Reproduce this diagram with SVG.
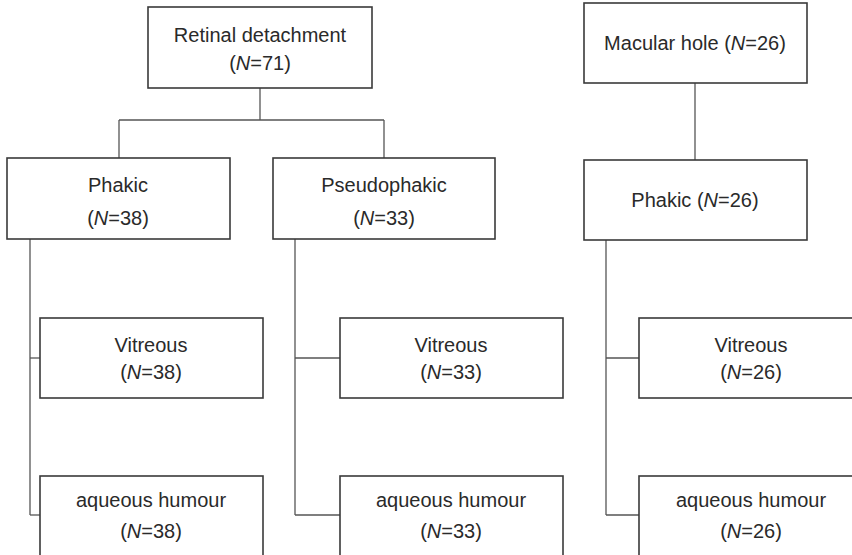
<svg xmlns="http://www.w3.org/2000/svg" width="852" height="555" viewBox="0 0 852 555">
<style>
  .box { fill: #ffffff; stroke: #3a3a3a; stroke-width: 1.6; }
  .conn line { stroke: #555555; stroke-width: 1.3; }
  text { font-family: "Liberation Sans", Arial, sans-serif; font-size: 20px; fill: #2a2a2a; text-anchor: middle; }
  .i { font-style: italic; }
</style>
<rect width="852" height="555" fill="#ffffff"/>
<g id="connectors" class="conn">
  <line x1="260" y1="88" x2="260" y2="120"/>
  <line x1="119" y1="120" x2="384" y2="120"/>
  <line x1="119" y1="120" x2="119" y2="158"/>
  <line x1="384" y1="120" x2="384" y2="158"/>
  <line x1="30" y1="239" x2="30" y2="515"/>
  <line x1="30" y1="358" x2="40" y2="358"/>
  <line x1="30" y1="515" x2="40" y2="515"/>
  <line x1="295" y1="239" x2="295" y2="515"/>
  <line x1="295" y1="358" x2="340" y2="358"/>
  <line x1="295" y1="515" x2="340" y2="515"/>
  <line x1="695" y1="83" x2="695" y2="160"/>
  <line x1="606" y1="240" x2="606" y2="515"/>
  <line x1="606" y1="358" x2="639" y2="358"/>
  <line x1="606" y1="515" x2="639" y2="515"/>
</g>
<g id="retinal">
  <rect class="box" x="148" y="7" width="224" height="81"/>
  <text x="260" y="42">Retinal detachment</text>
  <text x="260" y="70">(<tspan class="i">N</tspan>=71)</text>
</g>
<g id="phakic-rd">
  <rect class="box" x="7" y="158" width="223" height="81"/>
  <text x="118" y="192">Phakic</text>
  <text x="118" y="225">(<tspan class="i">N</tspan>=38)</text>
</g>
<g id="pseudophakic">
  <rect class="box" x="273" y="158" width="222" height="81"/>
  <text x="384" y="192">Pseudophakic</text>
  <text x="384" y="225">(<tspan class="i">N</tspan>=33)</text>
</g>
<g id="vitreous-phakic">
  <rect class="box" x="40" y="318" width="223" height="80"/>
  <text x="151" y="352">Vitreous</text>
  <text x="151" y="379">(<tspan class="i">N</tspan>=38)</text>
</g>
<g id="aqueous-phakic">
  <rect class="box" x="40" y="476" width="223" height="90"/>
  <text x="151" y="507">aqueous humour</text>
  <text x="151" y="538">(<tspan class="i">N</tspan>=38)</text>
</g>
<g id="vitreous-pseudo">
  <rect class="box" x="340" y="318" width="223" height="80"/>
  <text x="451" y="352">Vitreous</text>
  <text x="451" y="379">(<tspan class="i">N</tspan>=33)</text>
</g>
<g id="aqueous-pseudo">
  <rect class="box" x="340" y="476" width="223" height="90"/>
  <text x="451" y="507">aqueous humour</text>
  <text x="451" y="538">(<tspan class="i">N</tspan>=33)</text>
</g>
<g id="macular">
  <rect class="box" x="584" y="3" width="223" height="80"/>
  <text x="695" y="50">Macular hole (<tspan class="i">N</tspan>=26)</text>
</g>
<g id="phakic-mh">
  <rect class="box" x="584" y="160" width="223" height="80"/>
  <text x="695" y="207">Phakic (<tspan class="i">N</tspan>=26)</text>
</g>
<g id="vitreous-mh">
  <rect class="box" x="639" y="318" width="223" height="80"/>
  <text x="751" y="352">Vitreous</text>
  <text x="751" y="379">(<tspan class="i">N</tspan>=26)</text>
</g>
<g id="aqueous-mh">
  <rect class="box" x="639" y="476" width="223" height="90"/>
  <text x="751" y="507">aqueous humour</text>
  <text x="751" y="538">(<tspan class="i">N</tspan>=26)</text>
</g>
</svg>
